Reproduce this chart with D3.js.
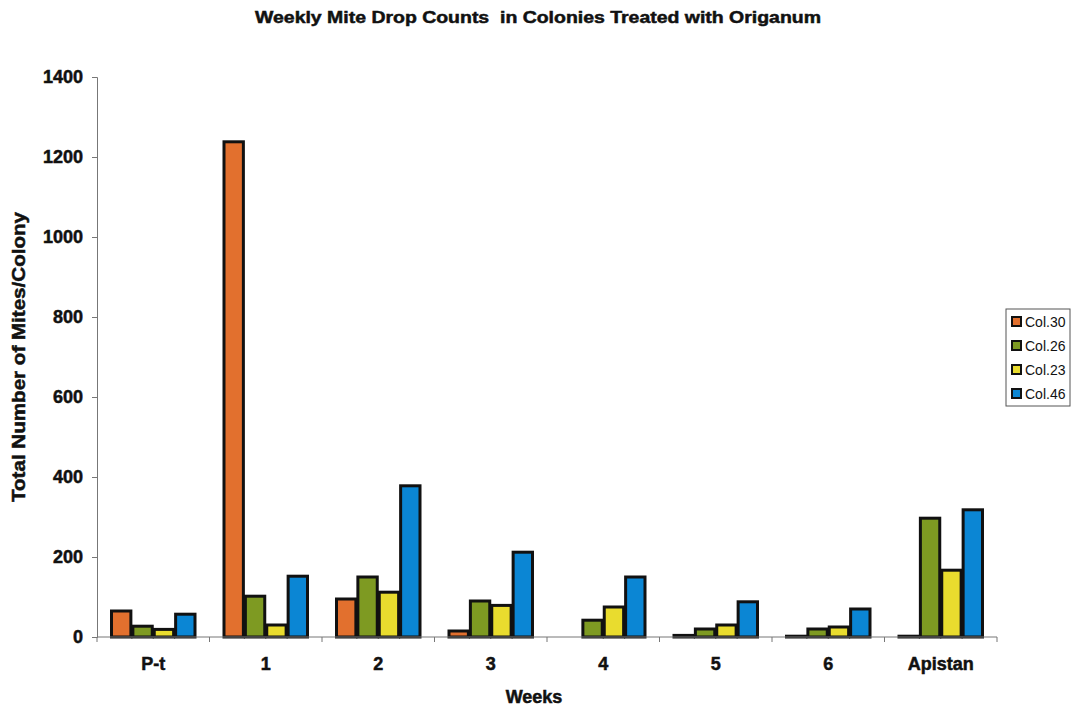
<!DOCTYPE html>
<html>
<head>
<meta charset="utf-8">
<script src="https://cdn.jsdelivr.net/npm/d3@7"></script>
<style>
  html, body { margin: 0; padding: 0; background: #fff; }
  svg { display: block; font-family: "Liberation Sans", Arial, sans-serif; }
</style>
</head>
<body>
<svg id="chart" width="1082" height="710"></svg>
<script>
// Weekly mite drop per colony, by treatment week
const weeks = ["P-t", "1", "2", "3", "4", "5", "6", "Apistan"];
const seriesNames = ["Col.30", "Col.26", "Col.23", "Col.46"];
const col30 = [65, 1238, 95, 15, 0, 4, 2, 2];
const col26 = [27, 102, 150, 90, 42, 20, 20, 297];
const col23 = [19, 30, 112, 79, 75, 30, 25, 167];
const col46 = [57, 152, 378, 212, 150, 88, 70, 318];
const yTicks = [0, 200, 400, 600, 800, 1000, 1200, 1400];
const colors = ["#e2702e", "#7e9a22", "#e9dc2e", "#0b86d4"];

const seriesValues = [col30, col26, col23, col46];
const rows = weeks.map((w, i) => ({ week: w, values: seriesValues.map(s => s[i]) }));

const svg = d3.select("#chart");
const left = 97, right = 997;

const x = d3.scaleBand().domain(weeks).range([left, right]).paddingInner(0.24).paddingOuter(0.12);
const x1 = d3.scaleBand().domain(seriesNames).range([0, x.bandwidth()]).padding(0);
const y = d3.scaleLinear().domain([0, 1400]).range([637, 77]);

// heavy text helper: bold face with a thin outline to thicken strokes
function heavy(sel, size) {
  return sel.attr("font-size", size).attr("font-weight", "bold")
    .attr("fill", "#111").attr("stroke", "#111").attr("stroke-width", 0.5);
}

// Title
heavy(svg.append("text"), 16.5)
  .attr("x", 538).attr("y", 23)
  .attr("text-anchor", "middle")
  .attr("textLength", 566).attr("lengthAdjust", "spacingAndGlyphs")
  .style("white-space", "pre")
  .text("Weekly Mite Drop Counts  in Colonies Treated with Origanum");

// Bars
const groups = svg.append("g").selectAll("g").data(rows).join("g")
  .attr("transform", d => `translate(${x(d.week)},0)`);
groups.selectAll("rect")
  .data(d => d.values.map((v, i) => ({ name: seriesNames[i], v, i })))
  .join("rect")
  .attr("x", d => x1(d.name) + 1)
  .attr("y", d => y(d.v))
  .attr("width", x1.bandwidth() - 2)
  .attr("height", d => y(0) - y(d.v))
  .attr("fill", d => colors[d.i])
  .attr("stroke", "#111")
  .attr("stroke-width", 3);

// Y axis
const yAxis = svg.append("g").attr("transform", `translate(${left},0)`)
  .call(d3.axisLeft(y).tickValues(yTicks).tickFormat(d3.format("d")).tickSize(5).tickPadding(9));
yAxis.select(".domain").attr("stroke", "#777");
yAxis.selectAll(".tick line").attr("stroke", "#777");
heavy(yAxis.selectAll("text"), 18)
  .attr("font-family", "Liberation Sans, Arial, sans-serif");

// X axis with tick marks between categories
const xAxisG = svg.append("g").attr("transform", `translate(0,${y(0)})`);
xAxisG.append("line").attr("x1", left).attr("x2", right).attr("y1", 0).attr("y2", 0).attr("stroke", "#777");
const boundaries = d3.range(weeks.length + 1).map(i => left + i * x.step() * (right - left) / (x.step() * weeks.length));
xAxisG.selectAll("line.tk").data(boundaries).join("line").attr("class", "tk")
  .attr("x1", d => d).attr("x2", d => d).attr("y1", 0).attr("y2", 5).attr("stroke", "#777");
heavy(xAxisG.selectAll("text").data(weeks).join("text"), 18)
  .attr("x", d => x(d) + x.bandwidth() / 2)
  .attr("y", 33)
  .attr("text-anchor", "middle")
  .text(d => d);

// Axis titles
heavy(svg.append("text"), 18)
  .attr("x", 534).attr("y", 703)
  .attr("text-anchor", "middle")
  .text("Weeks");
heavy(svg.append("text"), 18)
  .attr("transform", "translate(25,357) rotate(-90)")
  .attr("text-anchor", "middle")
  .attr("textLength", 290).attr("lengthAdjust", "spacingAndGlyphs")
  .text("Total Number of Mites/Colony");

// Legend
const legend = svg.append("g").attr("transform", "translate(1006,309)");
legend.append("rect").attr("width", 64).attr("height", 97)
  .attr("fill", "#fff").attr("stroke", "#555").attr("stroke-width", 1);
const items = legend.selectAll("g.item").data(seriesNames).join("g").attr("class", "item")
  .attr("transform", (d, i) => `translate(6,${13 + i * 24})`);
items.append("rect").attr("x", 0).attr("y", -5).attr("width", 9).attr("height", 9)
  .attr("fill", (d, i) => colors[i]).attr("stroke", "#111").attr("stroke-width", 2);
items.append("text").attr("x", 13).attr("y", 5)
  .attr("font-size", 14).attr("fill", "#111")
  .text(d => d);
</script>
</body>
</html>
